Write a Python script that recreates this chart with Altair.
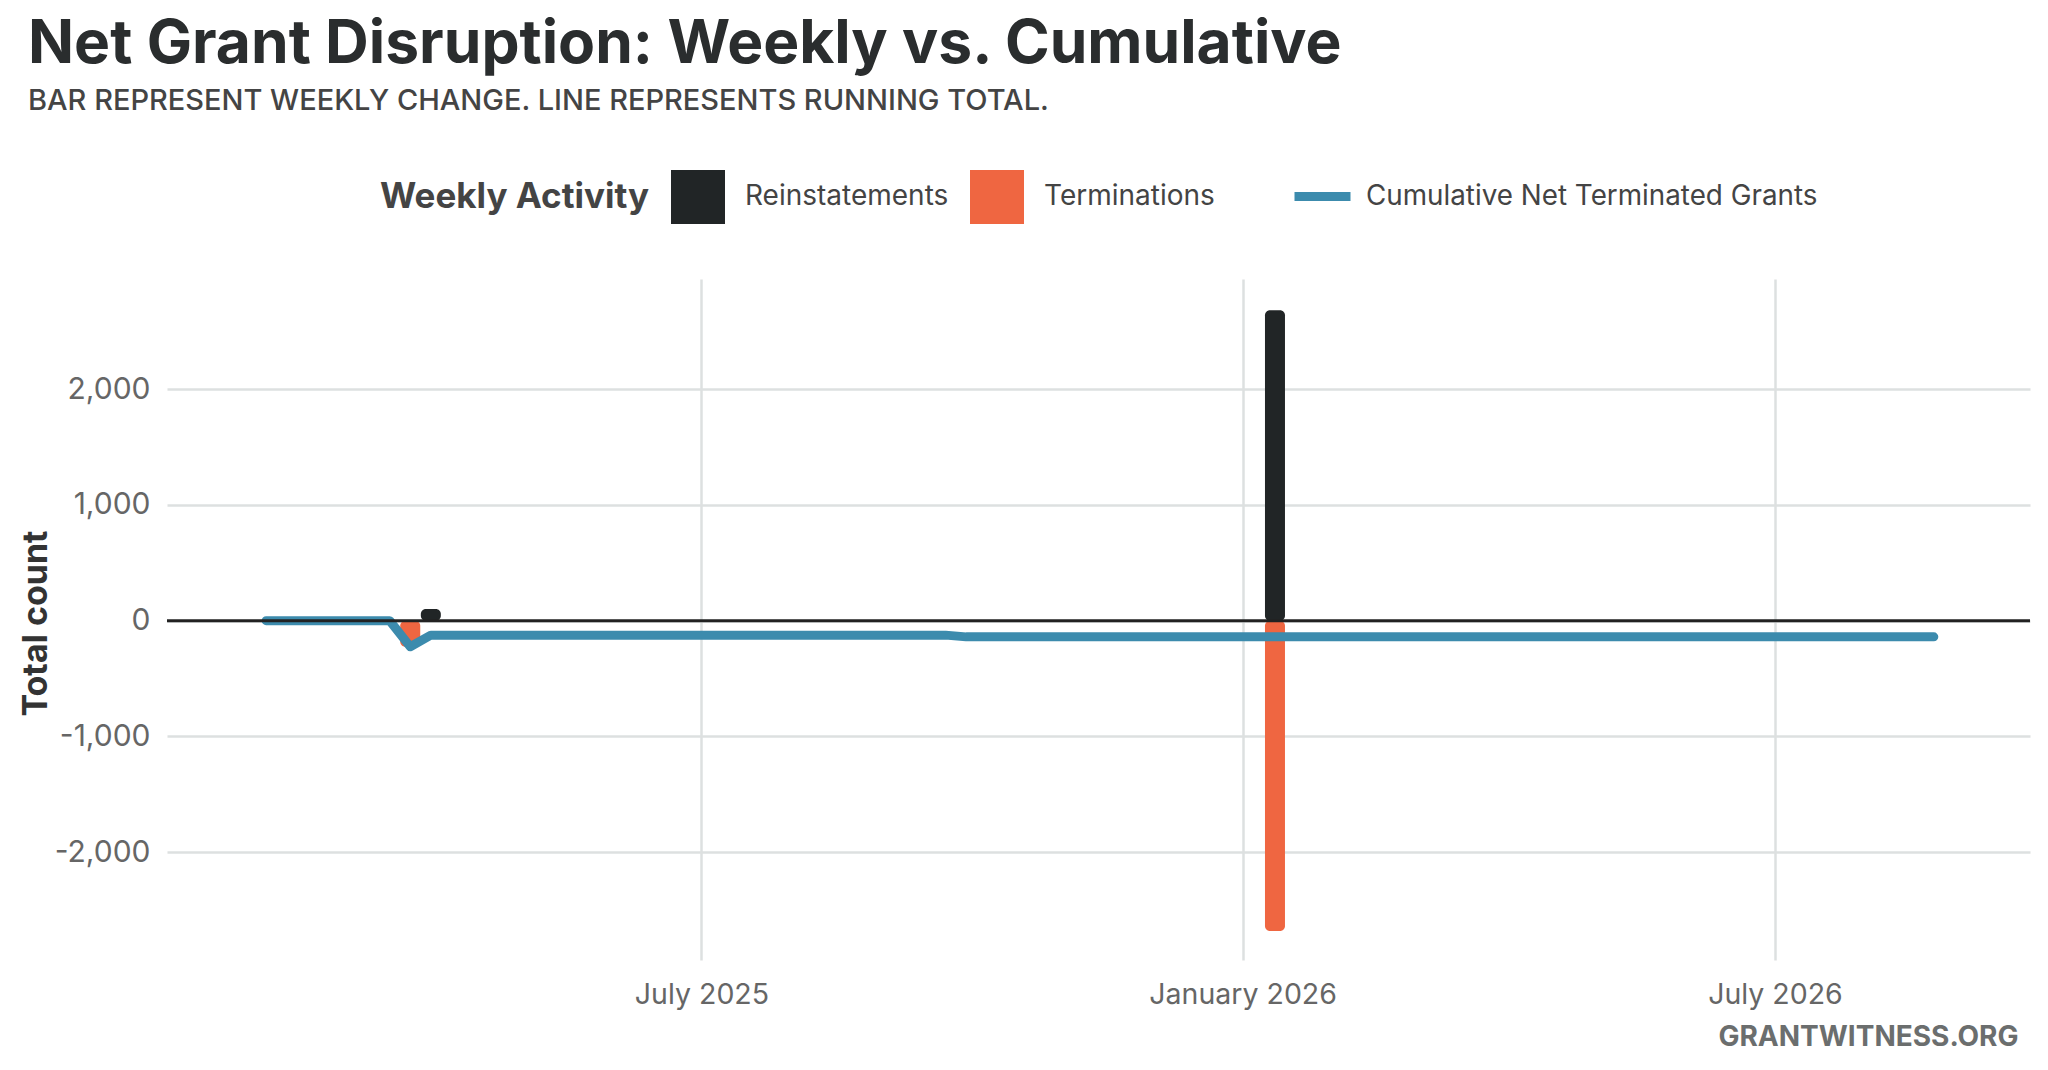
import altair as alt
import pandas as pd

# ---- data ----
line_dates = ["2025-02-03", "2025-03-17", "2025-03-24", "2025-03-31",
              "2025-09-22", "2025-09-29", "2026-08-24"]
line_values = [0, 0, -225, -125, -125, -140, -140]
line_series = "Cumulative Net Terminated Grants"

bar_dates = ["2025-03-24", "2025-03-31", "2026-01-12", "2026-01-12"]
bar_types = ["Terminations", "Reinstatements", "Reinstatements", "Terminations"]
bar_values = [-225, 100, 2680, -2680]

activity_types = ["Reinstatements", "Terminations"]
activity_colors = ["#212526", "#EF6641"]
line_color = "#3C8BAD"

y_ticks = [-2000, -1000, 0, 1000, 2000]
x_tick_dates = [(2025, 7, 1), (2026, 1, 1), (2026, 7, 1)]

# ---- tables ----
bars_df = pd.DataFrame({"week": bar_dates, "type": bar_types, "count": bar_values})
line_df = pd.DataFrame({"week": line_dates, "total": line_values,
                        "series": [line_series] * len(line_dates)})

W, H = 1863, 681
FONT = "Inter"

x_scale = alt.Scale(type="utc", domain=[
    alt.DateTime(year=2025, month=1, date=2, utc=True),
    alt.DateTime(year=2026, month=9, date=24, utc=True)])
y_scale = alt.Scale(domain=[-2930, 2950], nice=False, zero=False)

x_axis = alt.Axis(
    values=[alt.DateTime(year=y, month=m, date=d, utc=True) for (y, m, d) in x_tick_dates],
    format="%B %Y", labelFontSize=28.5, labelColor="#666666", labelPadding=20,
    labelLimit=400, ticks=False, domain=False, grid=True,
    title="GRANTWITNESS.ORG", titleFontSize=28, titleFontWeight="bold",
    titleColor="#6b6e6e", titleAlign="right", titleAnchor="end",
    titleX=1851, titleY=77, titleBaseline="middle")

y_axis = alt.Axis(
    values=y_ticks,
    labelExpr="replace(format(datum.value, ','), '\u2212', '-')",
    labelFontSize=30, labelColor="#666666", labelPadding=17,
    ticks=False, domain=False, grid=True,
    title="Total count", titleFontSize=34, titleFontWeight="bold",
    titleColor="#333333", titleX=-114, titleY=344)

bars = alt.Chart(bars_df).mark_bar(width=20, cornerRadius=5).encode(
    x=alt.X("week:T", scale=x_scale, axis=x_axis),
    y=alt.Y("count:Q", scale=y_scale, axis=y_axis, stack=None),
    color=alt.Color("type:N",
                    scale=alt.Scale(domain=activity_types, range=activity_colors),
                    legend=alt.Legend(
                        title="Weekly Activity", orient="none",
                        legendX=213, legendY=-109, direction="horizontal",
                        titleOrient="left", titleAnchor="middle",
                        titleBaseline="middle", titleFontSize=35,
                        titleFontWeight="bold", titleColor="#444444",
                        titlePadding=21, titleLimit=0, symbolType="square",
                        symbolSize=2916, symbolStrokeWidth=0,
                        labelFontSize=28, labelLimit=0,
                        labelColor="#444444", labelOffset=20,
                        columnPadding=21, padding=0)),
)

line = alt.Chart(line_df).mark_line(strokeWidth=9, strokeCap="round",
                                    strokeJoin="round").encode(
    x=alt.X("week:T", scale=x_scale),
    y=alt.Y("total:Q", scale=y_scale),
    stroke=alt.Stroke("series:N",
                      scale=alt.Scale(domain=[line_series], range=[line_color]),
                      legend=alt.Legend(
                          title=None, orient="none", legendX=1123, legendY=-115,
                          symbolType="stroke", symbolSize=3136,
                          symbolStrokeWidth=9, labelFontSize=27.8, labelLimit=0,
                          labelColor="#444444", labelOffset=11, padding=0)),
)

zero_rule = alt.Chart(pd.DataFrame({"z": [0]})).mark_rule(
    color="#222222", strokeWidth=3).encode(y=alt.Y("z:Q", scale=y_scale))

chart = alt.layer(bars, line, zero_rule).properties(
    width=W, height=H,
    autosize=alt.AutoSizeParams(type="none"),
    padding={"left": 159, "top": 271, "right": 10, "bottom": 100},
    title=alt.TitleParams(
        text="Net Grant Disruption: Weekly vs. Cumulative",
        subtitle="BAR REPRESENT WEEKLY CHANGE. LINE REPRESENTS RUNNING TOTAL.",
        anchor="start", frame="group", dx=-139,
        fontSize=60.5, fontWeight="bold", color="#2a2d2e", font=FONT,
        subtitleFontSize=29, subtitleFontWeight=500, subtitleColor="#444444",
        subtitleFont=FONT, subtitlePadding=12, offset=48),
).configure(font=FONT).configure_view(stroke=None).configure_axis(
    gridColor="#dde0e0", gridWidth=2.5, labelFont=FONT, titleFont=FONT
).configure_legend(labelFont=FONT, titleFont=FONT)

chart.save("out.html", embed_options={"renderer": "svg", "actions": False})
